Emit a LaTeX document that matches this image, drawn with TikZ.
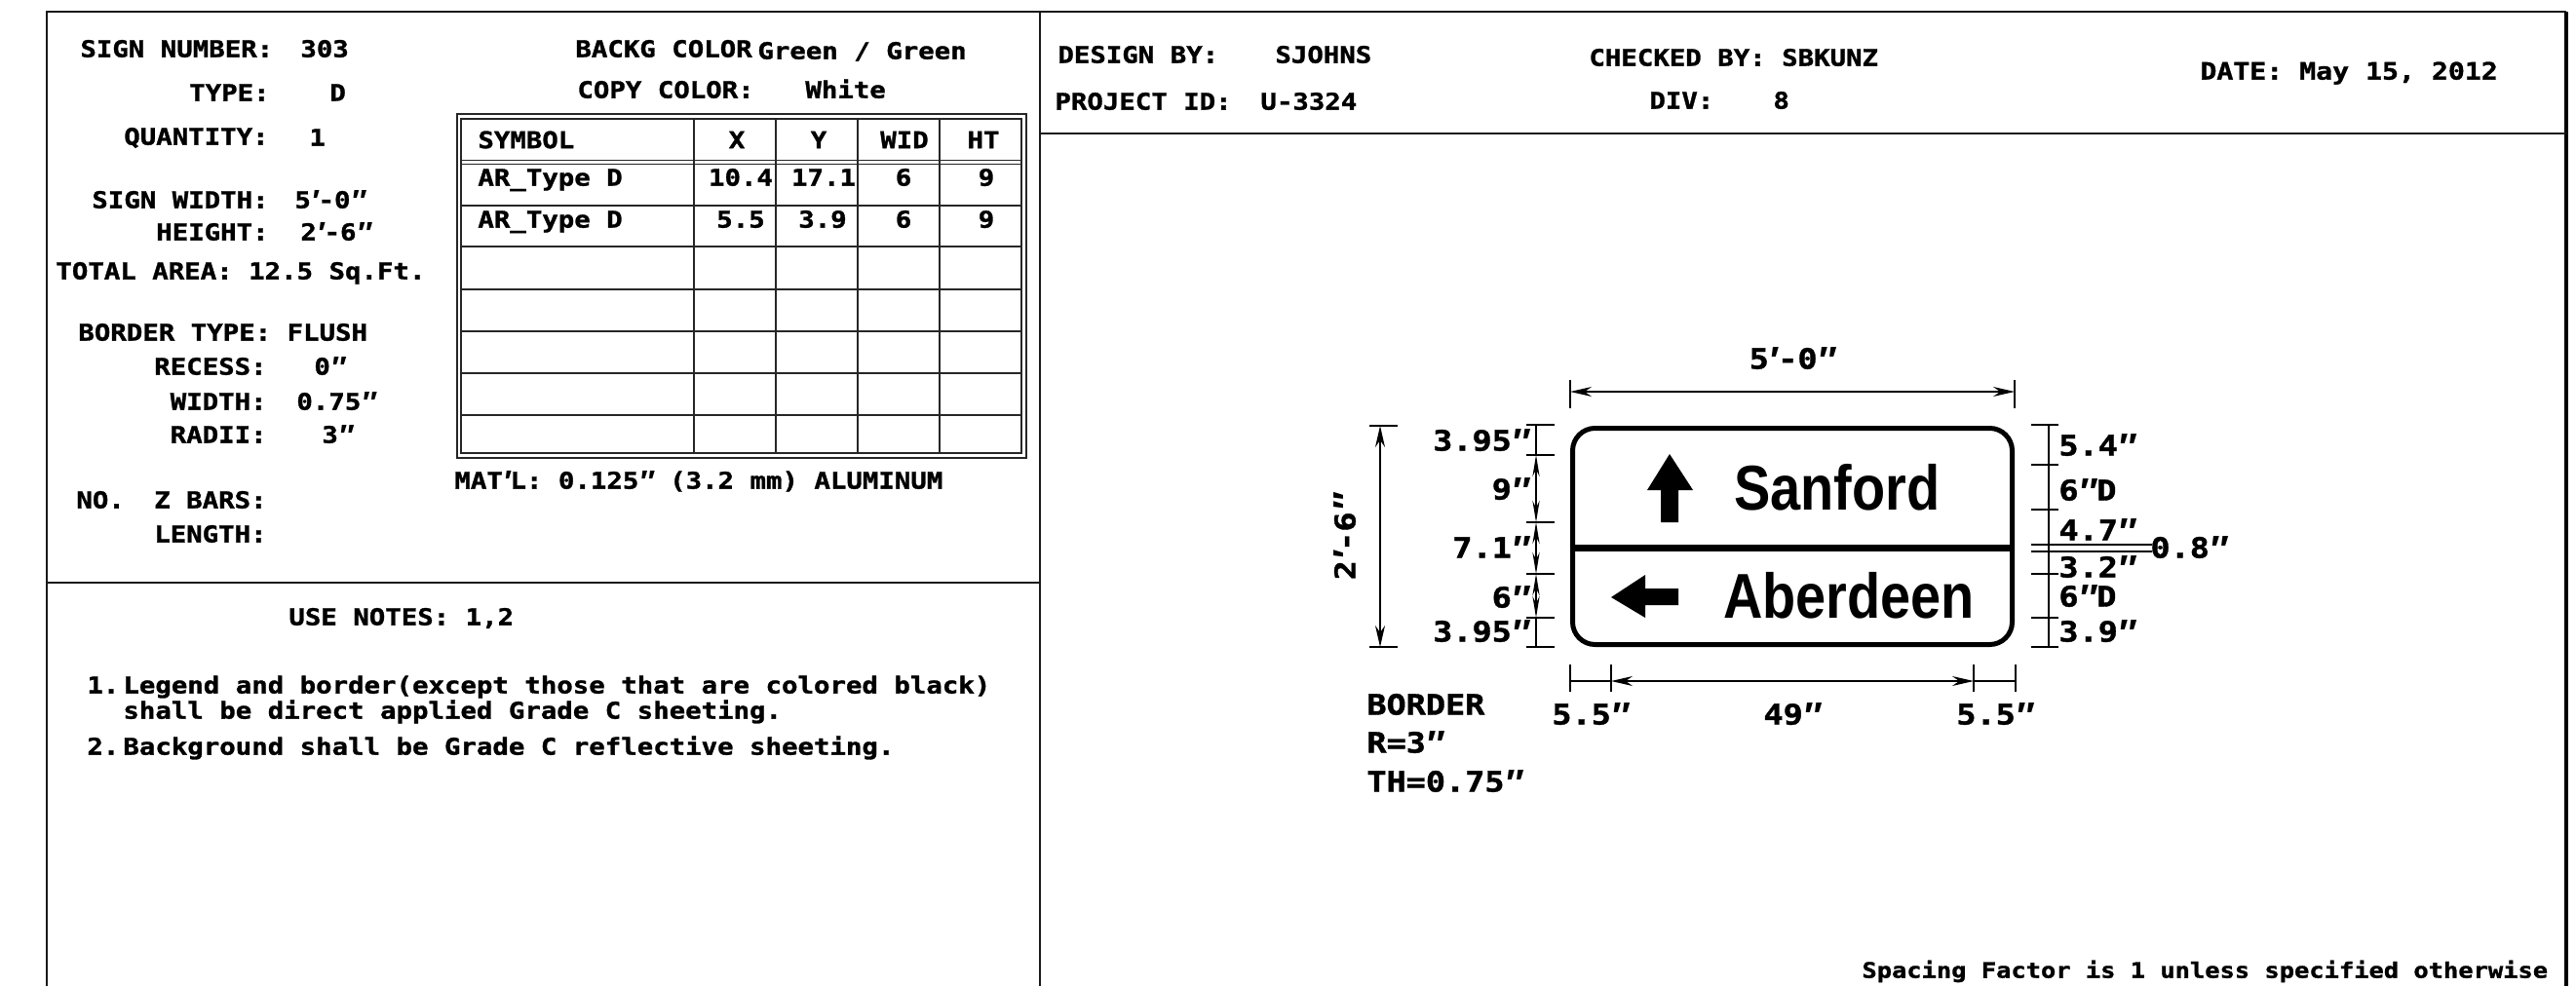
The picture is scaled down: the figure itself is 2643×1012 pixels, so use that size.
\documentclass[tikz,border=0pt]{standalone}
\usepackage{fontspec}
\setmainfont{DejaVu Sans Mono}[BoldFont={DejaVu Sans Mono Bold},BoldFeatures={FakeBold=1.3},FakeStretch=1.155]
\newfontfamily\signfont{Liberation Sans Bold}[FakeStretch=0.86]
\newfontfamily\primefont{Liberation Sans Italic}[Scale=1.35]
\usetikzlibrary{arrows.meta}
\newcommand{\spr}{\raisebox{-0.17em}{\primefont ′}}
\newcommand{\dpr}{\raisebox{-0.17em}{\primefont ″}}
\newcommand{\smalltxt}{\fontsize{11.85pt}{13pt}\selectfont\bfseries}
\newcommand{\tinytxt}{\fontsize{11pt}{13pt}\selectfont\bfseries}
\newcommand{\datetxt}{\fontsize{12.2pt}{13pt}\selectfont\bfseries}
\newcommand{\bigtxt}{\fontsize{14.5pt}{16pt}\selectfont\bfseries}
\tikzset{
  x=0.5pt,y=-0.5pt,
  tl/.style={anchor=west,inner sep=0pt,font=\smalltxt,text height=8.6pt,text depth=0pt},
  tr/.style={anchor=east,inner sep=0pt,font=\smalltxt,text height=8.6pt,text depth=0pt},
  tc/.style={anchor=center,inner sep=0pt,font=\smalltxt,text height=8.6pt,text depth=0pt},
  dl/.style={anchor=west,inner sep=0pt,font=\bigtxt,text height=10.5pt,text depth=0pt},
  dr/.style={anchor=east,inner sep=0pt,font=\bigtxt,text height=10.5pt,text depth=0pt},
  dc/.style={anchor=center,inner sep=0pt,font=\bigtxt,text height=10.5pt,text depth=0pt},
  frameline/.style={line width=1.1pt,black!90},
  edgeline/.style={line width=1.6pt,black},
  tabline/.style={line width=0.65pt,black!85},
  dimline/.style={line width=0.7pt,black},
  dimarrow/.style={dimline,{Stealth[length=11pt,width=3.6pt]}-{Stealth[length=11pt,width=3.6pt]}},
  dimarrowb/.style={dimline,{Stealth[length=11pt,width=5pt]}-{Stealth[length=11pt,width=5pt]}},
  signtxt/.style={anchor=center,inner sep=0pt,font=\signfont\fontsize{32.5pt}{34pt}\selectfont,text height=23.5pt,text depth=0pt},
}
\begin{document}
\begin{tikzpicture}
\useasboundingbox (0,0) rectangle (2643,1012);
\fill[white] (0,0) rectangle (2643,1012);
% frame
\coordinate (fTL) at (48,12); \coordinate (fTR) at (2633,12);
\coordinate (fBL) at (48,1012); \coordinate (fBR) at (2633,1012);
\coordinate (fdT) at (1067,12); \coordinate (fdB) at (1067,1012);
\draw[frameline] (fBL) -- (fTL) -- (fTR);
\draw[edgeline] (fTR) -- (fBR);
\draw[frameline] (fdT) -- (fdB);
\draw[frameline] (48,598) -- (1067,598);
\draw[frameline] (1067,137) -- (2633,137);
% left column labels
\node[tl] (n1) at (82,50) {SIGN NUMBER:};
\node[tl] (v1) at (308,50) {303};
\node[tr] (n2) at (277,95) {TYPE:};
\node[tl] (v2) at (338,95) {D};
\node[tr] (n3) at (276,140) {QUANTITY:};
\node[tl] (v3) at (317,141) {1};
\node[tr] (n4) at (276,205) {SIGN WIDTH:};
\node[tl] (v4) at (302,205) {5\spr-0\dpr};
\node[tr] (n5) at (276,238) {HEIGHT:};
\node[tl] (v5) at (308,238) {2\spr-6\dpr};
\node[tl] (n6) at (57,278) {TOTAL AREA: 12.5 Sq.Ft.};
\node[tl] (n7) at (80,341) {BORDER TYPE: FLUSH};
\node[tr] (n8) at (274,376) {RECESS:};
\node[tl] (v8) at (322,376) {0\dpr};
\node[tr] (n9) at (274,412) {WIDTH:};
\node[tl] (v9) at (304,412) {0.75\dpr};
\node[tr] (n10) at (274,446) {RADII:};
\node[tl] (v10) at (330,446) {3\dpr};
\node[tl] (n11) at (78,513) {NO.};
\node[tr] (n12) at (274,513) {Z BARS:};
\node[tr] (n13) at (274,548) {LENGTH:};
% colours
\node[tl] (c1) at (590,50) {BACKG COLOR};
\node[tl] (c1v) at (777,52) {Green / Green};
\node[tl] (c2) at (592,92) {COPY COLOR:};
\node[tl] (c2v) at (826,92) {White};
% table
\draw[tabline] (469,117) rectangle (1053,470);
\draw[tabline] (473,122) rectangle (1048,465);
\foreach \xx in {712,796,880,964} \draw[tabline] (\xx,122) -- (\xx,465);
\foreach \yy in {164.5,168.5,211,253,297,340,383,426} \draw[tabline] (473,\yy) -- (1048,\yy);
\node[tl] (h1) at (490,143.5) {SYMBOL};
\node[tc] (h2) at (756,143.5) {X};
\node[tc] (h3) at (840,143.5) {Y};
\node[tc] (h4) at (928,143.5) {WID};
\node[tc] (h5) at (1009,143.5) {HT};
\node[tl] (r11) at (490,182) {AR\_Type D};
\node[tc] (r12) at (760,182) {10.4};
\node[tc] (r13) at (845,182) {17.1};
\node[tc] (r14) at (927,182) {6};
\node[tc] (r15) at (1012,182) {9};
\node[tl] (r21) at (490,225) {AR\_Type D};
\node[tc] (r22) at (760,225) {5.5};
\node[tc] (r23) at (844,225) {3.9};
\node[tc] (r24) at (927,225) {6};
\node[tc] (r25) at (1012,225) {9};
\node[tl] (mat) at (466,493) {MAT\spr L: 0.125\dpr{} (3.2 mm) ALUMINUM};
% notes
\node[tl] (use) at (296,633) {USE NOTES: 1,2};
\node[tl] (no1) at (89,703) {1.};
\node[tl] (no1a) at (126,703) {Legend and border(except those that are colored black)};
\node[tl] (no1b) at (126,729) {shall be direct applied Grade C sheeting.};
\node[tl] (no2) at (89,766) {2.};
\node[tl] (no2a) at (126,766) {Background shall be Grade C reflective sheeting.};
% header right
\node[tl] (d1) at (1085,56) {DESIGN BY:};
\node[tl] (d1v) at (1308,56) {SJOHNS};
\node[tl] (d2) at (1082,104) {PROJECT ID:};
\node[tl] (d2v) at (1293,104) {U-3324};
\node[tl] (d3) at (1630,59) {CHECKED BY: SBKUNZ};
\node[tl] (d4) at (1692,103) {DIV:};
\node[tl] (d4v) at (1819,103) {8};
\node[tl,font=\datetxt] (d5) at (2257,73) {DATE: May 15, 2012};
\node[tl,font=\tinytxt] (sf) at (1910,995) {Spacing Factor is 1 unless specified otherwise};
% sign
\draw[line width=2.5pt,rounded corners=11.5pt] (1613.5,439.5) rectangle (2064.5,661.5);
\fill (1611,559) rectangle (2067,566);
\fill (1704,536) -- (1704,503) -- (1690,503) -- (1713,466) -- (1737,503) -- (1722,503) -- (1722,536) -- cycle;
\fill (1722,604) -- (1688,604) -- (1688,590) -- (1653,613) -- (1688,634) -- (1688,621) -- (1722,621) -- cycle;
\node[signtxt] (sanford) at (1885,500) {Sanford};
\node[signtxt] (aberdeen) at (1897,611) {Aberdeen};
% top dim
\coordinate (tdL) at (1611,402); \coordinate (tdR) at (2067,402);
\draw[dimline] (1611,390) -- (1611,419);
\draw[dimline] (2067,390) -- (2067,419);
\draw[dimarrowb] (tdL) -- (tdR);
\node[dc] (dimw) at (1839,368) {5\spr-0\dpr};
% left overall dim
\coordinate (ldT) at (1416,437); \coordinate (ldB) at (1416,664);
\draw[dimline] (1405,437) -- (1434,437);
\draw[dimline] (1405,664) -- (1434,664);
\draw[dimarrowb] (ldT) -- (ldB);
\node[dc,rotate=90] (dimh) at (1380,551) {2\spr-6\dpr};
% left stack
\foreach \yy in {436,467,536,589,634,664} \draw[dimline] (1566,\yy) -- (1595,\yy);
\coordinate (ls0) at (1576,436); \coordinate (ls1) at (1576,467); \coordinate (ls2) at (1576,536);
\coordinate (ls3) at (1576,589); \coordinate (ls4) at (1576,634); \coordinate (ls5) at (1576,664);
\draw[dimline] (ls0) -- (ls1);
\draw[dimarrow] (ls1) -- (ls2);
\draw[dimarrow] (ls2) -- (ls3);
\draw[dimarrow] (ls3) -- (ls4);
\draw[dimline] (ls4) -- (ls5);
\node[dr] (l1) at (1570,452) {3.95\dpr};
\node[dr] (l2) at (1570,502) {9\dpr};
\node[dr] (l3) at (1570,562) {7.1\dpr};
\node[dr] (l4) at (1570,613) {6\dpr};
\node[dr] (l5) at (1570,648) {3.95\dpr};
% right stack
\foreach \yy in {436,477,523,559,566,589,634,664} \draw[dimline] (2084,\yy) -- (2112,\yy);
\coordinate (rsT) at (2102,436); \coordinate (rsB) at (2102,664);
\draw[dimline] (rsT) -- (rsB);
\coordinate (w1) at (2208,559); \coordinate (w2) at (2208,566);
\draw[dimline] (2084,559) -- (w1);
\draw[dimline] (2084,566) -- (w2);
\node[dl] (q1) at (2112,457) {5.4\dpr};
\node[dl] (q2) at (2112,503) {6\dpr D};
\node[dl] (q3) at (2112,544) {4.7\dpr};
\node[dl] (q4) at (2112,582) {3.2\dpr};
\node[dl] (q5) at (2112,612) {6\dpr D};
\node[dl] (q6) at (2112,648) {3.9\dpr};
\node[dl] (q7) at (2206,562) {0.8\dpr};
% bottom dim
\foreach \xx in {1611,1653,2025,2068} \draw[dimline] (\xx,682) -- (\xx,710);
\coordinate (b0) at (1611,699); \coordinate (b1) at (1653,699); \coordinate (b2) at (2025,699); \coordinate (b3) at (2068,699);
\draw[dimline] (b0) -- (b1);
\draw[dimarrowb] (b1) -- (b2);
\draw[dimline] (b2) -- (b3);
\node[dc] (b5a) at (1632,733) {5.5\dpr};
\node[dc] (b49) at (1839,733) {49\dpr};
\node[dc] (b5b) at (2047,733) {5.5\dpr};
\node[dl] (bo1) at (1402,723) {BORDER};
\node[dl] (bo2) at (1402,762) {R=3\dpr};
\node[dl] (bo3) at (1402,802) {TH=0.75\dpr};
\end{tikzpicture}
\end{document}
